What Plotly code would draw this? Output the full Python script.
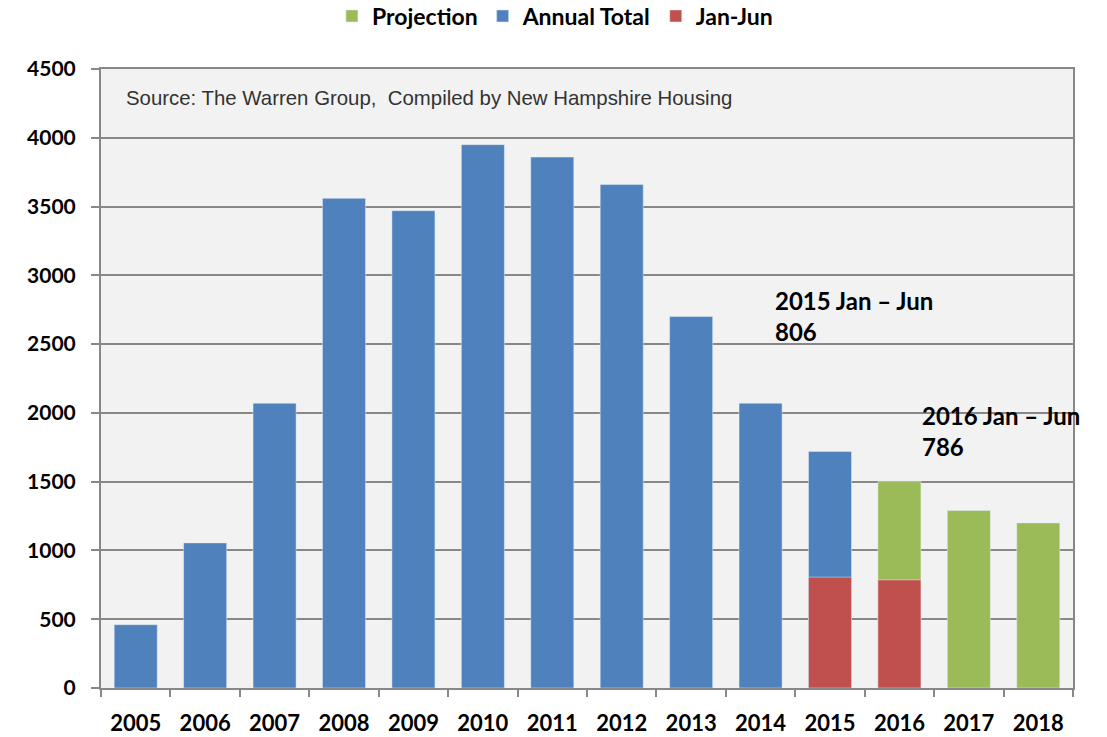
import plotly.graph_objects as go

years = ["2005", "2006", "2007", "2008", "2009", "2010", "2011",
         "2012", "2013", "2014", "2015", "2016", "2017", "2018"]
annual_total = [460, 1055, 2070, 3560, 3470, 3950, 3860, 3660, 2700, 2070, 1720, None, None, None]
projection = [None] * 11 + [1500, 1290, 1200]
jan_jun = [None] * 10 + [806, 786, None, None]
y_ticks = [0, 500, 1000, 1500, 2000, 2500, 3000, 3500, 4000, 4500]

FONT = "Lato"
fig = go.Figure()
fig.add_trace(go.Bar(x=years, y=projection, name="Projection", marker_color="#9bbb59"))
fig.add_trace(go.Bar(x=years, y=annual_total, name="Annual Total", marker_color="#4f81bd"))
fig.add_trace(go.Bar(x=years, y=jan_jun, name="Jan-Jun", marker_color="#c0504d"))

fig.update_layout(
    width=1107, height=737,
    barmode="overlay", bargap=0.38,
    plot_bgcolor="#f2f2f2", paper_bgcolor="white",
    margin=dict(l=101, r=34, t=69, b=49, autoexpand=False),
    font=dict(family=FONT, size=19, color="black"),
    legend=dict(orientation="h", x=0.467, xanchor="center", y=1.0856, yref="paper",
                yanchor="middle", font=dict(family=FONT, size=23, color="black", weight="bold"),
                traceorder="normal", itemwidth=30),
    showlegend=True,
)
fig.update_xaxes(
    type="category", showline=True, linecolor="#888888", linewidth=2, mirror=True,
    ticks="outside", tickson="boundaries", ticklen=7, tickcolor="#888888", tickwidth=1.5,
    tickfont=dict(family=FONT, size=22, weight="bold"), ticklabelstandoff=15,
    showgrid=False, automargin=False,
)
fig.update_yaxes(
    range=[0, 4500], tickvals=y_ticks, showline=True, linecolor="#888888", linewidth=2,
    mirror=True, ticks="outside", ticklen=8, tickcolor="#888888", tickwidth=1.5,
    gridcolor="#888888", gridwidth=2, zeroline=False, automargin=False,
    tickfont=dict(family=FONT, size=21, weight="bold"), ticklabelstandoff=11,
)
fig.add_annotation(x=0.0237, xref="paper", y=4290, yref="y", xanchor="left", yanchor="middle",
                   text="Source: The Warren Group,  Compiled by New Hampshire Housing",
                   showarrow=False, font=dict(family="Liberation Sans", size=20.4, color="#333333"))
fig.add_annotation(x=0.691, xref="paper", y=2935, yref="y", xanchor="left", yanchor="top",
                   align="left", text="2015 Jan – Jun<br>806", showarrow=False,
                   font=dict(family=FONT, size=24, color="black", weight="bold"))
fig.add_annotation(x=0.843, xref="paper", y=2100, yref="y", xanchor="left", yanchor="top",
                   align="left", text="2016 Jan – Jun<br>786", showarrow=False,
                   font=dict(family=FONT, size=24, color="black", weight="bold"))

fig.write_html("out.html", config={"displayModeBar": False},
               post_script="document.body.style.margin='0';")
